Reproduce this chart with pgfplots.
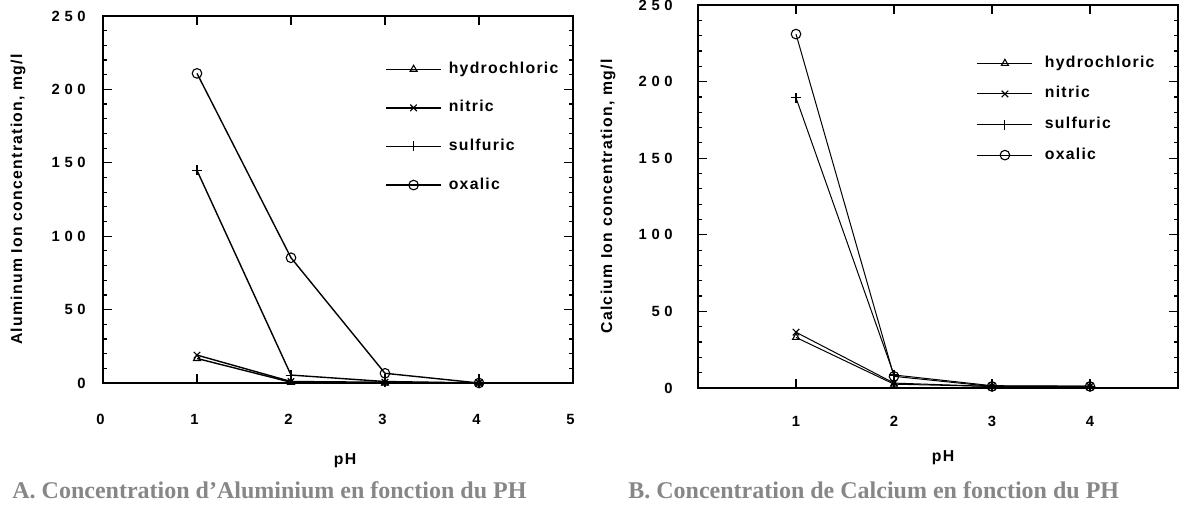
\documentclass[border=0pt]{standalone}
\usepackage{pgfplots}
\pgfplotsset{compat=1.18}
\usepackage{pgfplotstable}
\usepackage{fontspec}
\setmainfont{Liberation Sans}
\newfontfamily\labfont[LetterSpace=8]{Liberation Sans}
\newfontfamily\numfont{Liberation Sans}
\newfontfamily\capfont{Liberation Serif}
\definecolor{capgray}{RGB}{135,135,135}
\newcommand\lf{\labfont\bfseries\fontsize{7.9pt}{9pt}\selectfont}
\newcommand\nf{\numfont\bfseries\fontsize{7.4pt}{9pt}\selectfont}
\newcommand\gs{\kern2.3pt}

\pgfplotstableread{
x hcl nit sul oxa
1 16.7 19 144.8 210.9
2 0.5 1 5.4 85.3
3 0 0.5 1 6.6
4 0 0 0 0
}\altab
\pgfplotstableread{
x hcl nit sul oxa
1 33 36.4 189.4 231
2 2.5 3.2 8.5 7.6
3 1 1 1.5 1
4 1 1 1.2 1
}\catab

\pgfplotsset{
  common/.style={
    scale only axis,
    axis line style={line width=0.9pt},
    ymin=0, ymax=250,
    ytick={0,50,...,250},
    yticklabels={0,5\gs0,1\gs0\gs0,1\gs5\gs0,2\gs0\gs0,2\gs5\gs0},
    minor y tick num=4,
    xtick={0,1,2,3,4,5},
    tick align=inside,
    major tick length=4.5pt,
    minor tick length=2.2pt,
    every tick/.style={black, line width=0.6pt},
    /pgf/number format/assume math mode=true,
    ticklabel style={font=\nf},
    label style={font=\lf},
    legend cell align=left,
    legend image code/.code={\draw[mark repeat=2,mark phase=2,##1] plot coordinates {(0pt,0pt) (13.75pt,0pt) (27.5pt,0pt)};},
    every axis plot/.append style={black, line width=0.7pt, mark options={solid, line width=0.55pt}},
  },
}

\begin{document}
\begin{tikzpicture}
\useasboundingbox (0,0) rectangle (591pt,253pt);
% Left panel
\begin{axis}[common,
  at={(51.5pt,61.5pt)}, anchor=south west,
  width=235pt, height=183.5pt,
  xmin=0, xmax=5,
  xticklabel style={anchor=center, yshift=-18pt, xshift=-1.2pt, inner sep=0pt},
  yticklabel style={anchor=east, xshift=-8.5pt, inner sep=0pt},
  xlabel={pH},
  xlabel style={at={(axis description cs:0.5,0)}, anchor=center, yshift=-39pt, xshift=3.5pt},
  ylabel={Aluminum Ion concentration, mg/l},
  ylabel style={at={(axis description cs:0,0.5)}, anchor=center, rotate=0, yshift=42.5pt},
  legend style={at={(rel axis cs:0.6,0.875)}, anchor=north west, draw=none, fill=none,
    inner sep=0pt, row sep=12.3pt, column sep=3.5pt, font=\lf,
    nodes={inner sep=0pt, text height=5.5pt, text depth=1.5pt}},
]
\addplot[mark=triangle, mark size=2pt] table[x=x, y=hcl] {\altab};
\addlegendentry{hydrochloric}
\addplot[mark=x, mark size=2.3pt] table[x=x, y=nit] {\altab};
\addlegendentry{nitric}
\addplot[mark=+, mark size=2.5pt] table[x=x, y=sul] {\altab};
\addlegendentry{sulfuric}
\addplot[mark=o, mark size=2.4pt] table[x=x, y=oxa] {\altab};
\addlegendentry{oxalic}
\end{axis}
% Right panel
\begin{axis}[common,
  at={(349pt,59pt)}, anchor=south west,
  width=240.1pt, height=191.5pt,
  xmin=0, xmax=4.9,
  xtick={1,2,3,4},
  xticklabel style={anchor=center, yshift=-16.5pt, inner sep=0pt},
  yticklabel style={anchor=east, xshift=-12.5pt, inner sep=0pt},
  every axis plot/.append style={line width=0.5pt},
  xlabel={pH},
  xlabel style={at={(axis description cs:0.5,0)}, anchor=center, yshift=-35pt, xshift=2.5pt},
  ylabel={Calcium Ion concentration, mg/l},
  ylabel style={at={(axis description cs:0,0.5)}, anchor=center, yshift=45pt},
  legend style={at={(rel axis cs:0.58,0.867)}, anchor=north west, draw=none, fill=none,
    inner sep=0pt, row sep=8.3pt, column sep=6pt, font=\lf,
    nodes={inner sep=0pt, text height=5.5pt, text depth=1.5pt}},
]
\addplot[mark=triangle, mark size=2pt] table[x=x, y=hcl] {\catab};
\addlegendentry{hydrochloric}
\addplot[mark=x, mark size=2.3pt] table[x=x, y=nit] {\catab};
\addlegendentry{nitric}
\addplot[mark=+, mark size=2.5pt] table[x=x, y=sul] {\catab};
\addlegendentry{sulfuric}
\addplot[mark=o, mark size=2.4pt] table[x=x, y=oxa] {\catab};
\addlegendentry{oxalic}
\end{axis}
\node[anchor=west, inner sep=0pt, text=capgray, font=\capfont\bfseries\fontsize{12pt}{14pt}\selectfont] at (6pt,8pt) {A. Concentration d’Aluminium en fonction du PH};
\node[anchor=west, inner sep=0pt, text=capgray, font=\capfont\bfseries\fontsize{12pt}{14pt}\selectfont] at (314pt,8pt) {B. Concentration de Calcium en fonction du PH};
\end{tikzpicture}
\end{document}
